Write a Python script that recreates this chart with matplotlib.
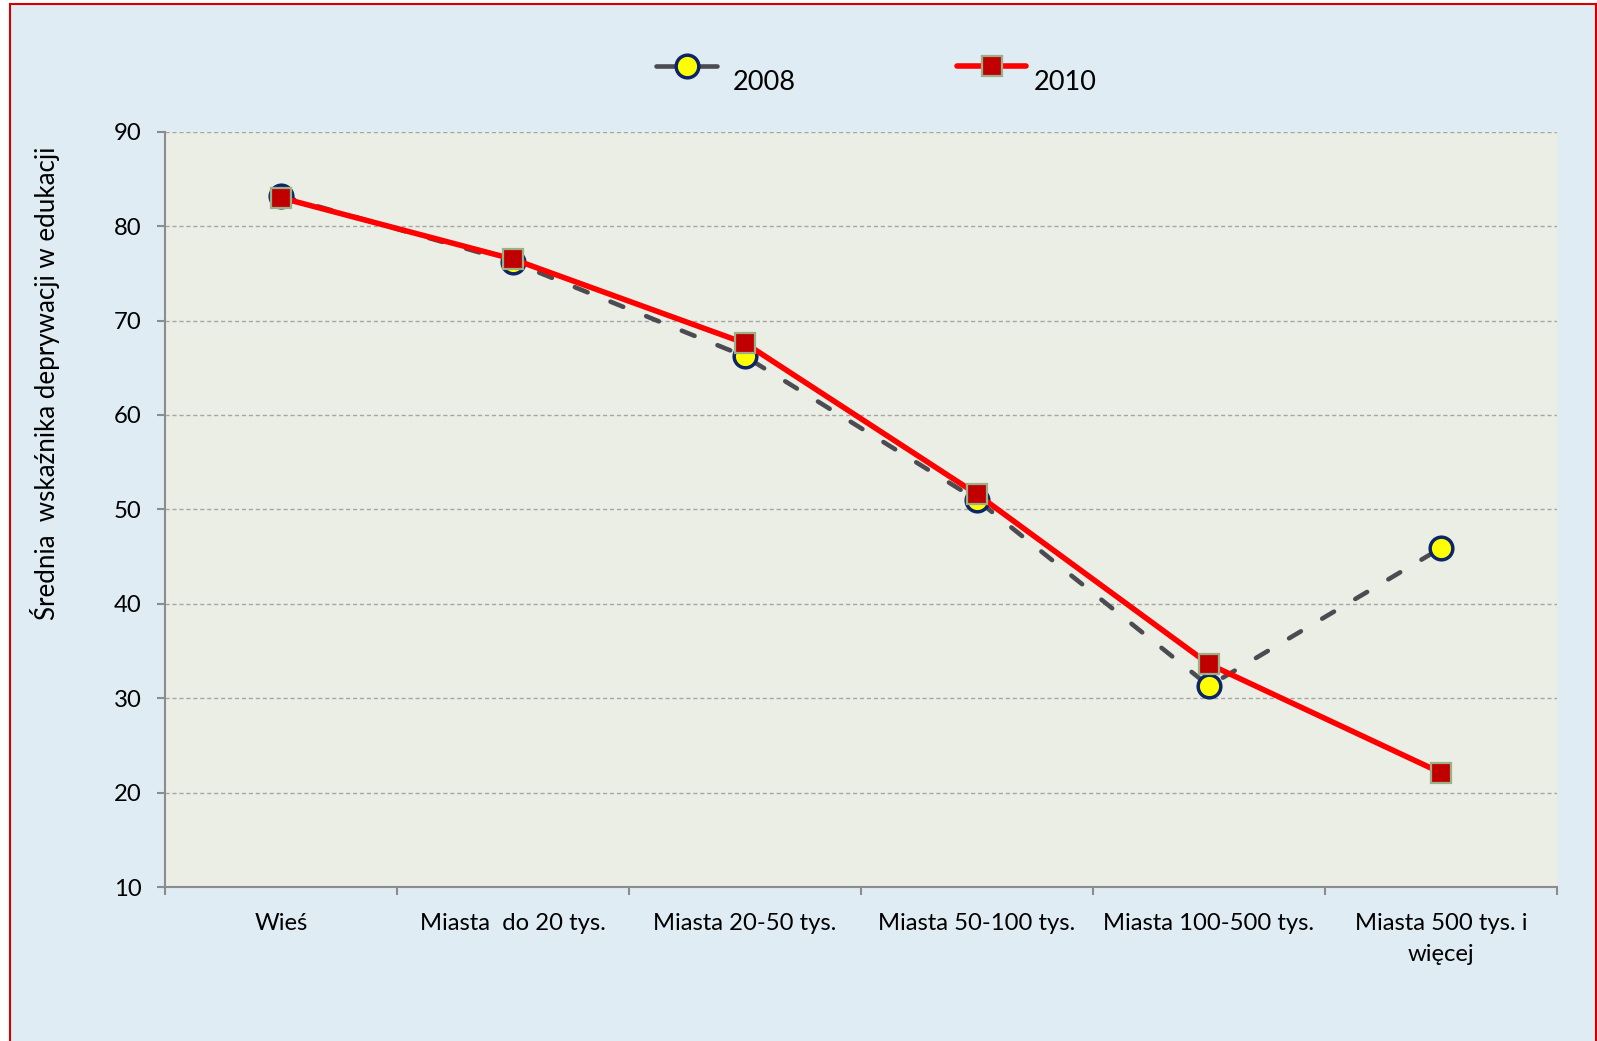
import matplotlib
matplotlib.use("Agg")
import matplotlib.pyplot as plt
from matplotlib.lines import Line2D
from matplotlib.patches import Rectangle

categories = ["Wieś", "Miasta  do 20 tys.", "Miasta 20-50 tys.", "Miasta 50-100 tys.",
              "Miasta 100-500 tys.", "Miasta 500 tys. i\nwięcej"]
values_2008 = [83.2, 76.2, 66.2, 51.0, 31.3, 45.9]
values_2010 = [83.0, 76.5, 67.6, 51.6, 33.6, 22.1]
series_names = ["2008", "2010"]
yticks = [10, 20, 30, 40, 50, 60, 70, 80, 90]
ylabel = "Średnia  wskaźnika deprywacji w edukacji"

plt.rcParams['font.family'] = ['Lato', 'DejaVu Sans']

W, H = 1597, 1041
fig = plt.figure(figsize=(W / 100, H / 100), dpi=100, facecolor="white")

# background panel with red border
bg = Rectangle((10 / W, -0.01), (1596 - 10) / W, 1 - 4 / H + 0.01, transform=fig.transFigure,
               facecolor="#DFECF3", edgecolor="#D40000", linewidth=1.5, zorder=-10)
fig.patches.append(bg)

ax = fig.add_axes([165 / W, 1 - 887 / H, (1557 - 165) / W, (887 - 131.7) / H])
ax.set_facecolor("#EBEEE5")

dash08 = (0, (3.0, 5.4))
x = list(range(len(categories)))
ax.plot(x, values_2008, linestyle=dash08, color="#4D4B52", linewidth=3.3,
        dash_capstyle="round", marker="o", markersize=16.3, markerfacecolor="#FFFF00",
        markeredgecolor="#0B2566", markeredgewidth=2.5, zorder=3)
ax.plot(x, values_2010, linestyle="-", color="#FF0000", linewidth=4.0,
        marker="s", markersize=14.0, markerfacecolor="#C00000",
        markeredgecolor="#9BAF88", markeredgewidth=1.6, zorder=4)

ax.set_xlim(-0.5, len(categories) - 0.5)
ax.set_ylim(10, 90)
ax.set_yticks(yticks)
ax.yaxis.grid(True, linestyle=(0, (3, 2)), color="#A6A6A6", linewidth=1.0)
ax.set_axisbelow(True)

for s in ["top", "right"]:
    ax.spines[s].set_visible(False)
for s in ["left", "bottom"]:
    ax.spines[s].set_color("#8C8C8C")
    ax.spines[s].set_linewidth(1.5)

ax.set_xticks(x)
ax.set_xticklabels(categories, linespacing=1.55)
ax.set_xticks([i - 0.5 for i in range(len(categories) + 1)], minor=True)
ax.tick_params(axis="x", which="major", length=0, pad=19, labelsize=17.2, colors="#000000")
ax.tick_params(axis="x", which="minor", length=6, width=1.5, color="#8C8C8C", direction="out")
ax.tick_params(axis="y", length=6, width=1.5, color="#8C8C8C", pad=11, labelsize=17.2)

ax.set_ylabel(ylabel, fontsize=18.6)
ax.yaxis.set_label_coords(-0.0755, 0.667)

# legend drawn manually
def legend_entry(x0, x1, y, text_x, text_y, style, label):
    fig.add_artist(Line2D([x0 / W, x1 / W], [1 - y / H, 1 - y / H], transform=fig.transFigure,
                          solid_capstyle="round", **style))
    mk = {k: v for k, v in style.items() if k.startswith("marker")}
    fig.add_artist(Line2D([(x0 + x1) / 2 / W], [1 - y / H], transform=fig.transFigure,
                          linestyle="none", **mk))
    fig.text(text_x / W, 1 - text_y / H, label, fontsize=19.5, va="center", ha="left")

style08 = dict(color="#4D4B52", linewidth=3.3, marker="o", markersize=16.3,
               markerfacecolor="#FFFF00", markeredgecolor="#0B2566", markeredgewidth=2.5)
style10 = dict(color="#FF0000", linewidth=4.0, marker="s", markersize=14.0,
               markerfacecolor="#C00000", markeredgecolor="#9BAF88", markeredgewidth=1.6)
legend_entry(656, 717, 66, 733, 83, dict(style08, markevery=[]), series_names[0])
legend_entry(957, 1026, 66, 1034, 83, dict(style10, markevery=[]), series_names[1])

fig.savefig("out.png", dpi=100, facecolor=fig.get_facecolor())
